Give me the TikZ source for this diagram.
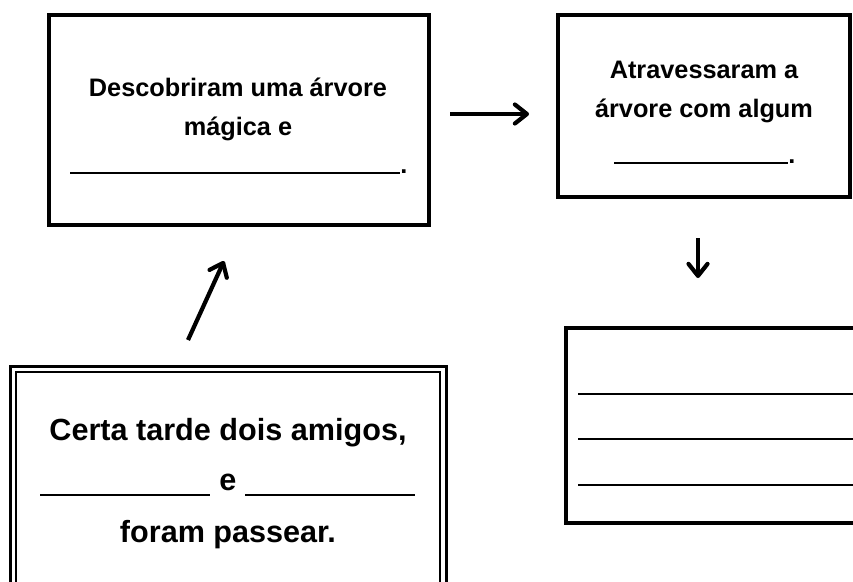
\documentclass[tikz,border=0pt]{standalone}
\usepackage{fontspec}
\setmainfont{Liberation Sans}
\usetikzlibrary{arrows.meta}
\begin{document}
\begin{tikzpicture}[x=1pt,y=-1pt,
  box/.style={draw=black,line width=4pt,inner sep=0pt},
  txt/.style={font=\bfseries\fontsize{25.3}{28}\selectfont,inner sep=0pt,anchor=base},
  bigtxt/.style={font=\bfseries\fontsize{30.6}{34}\selectfont,inner sep=0pt,anchor=base},
  blank/.style={line width=1.6pt},
  arr/.style={line width=4.2pt,-{Straight Barb[length=12pt,width=19pt,line width=4.2pt,round]}}]
\clip (0,0) rectangle (853,581);
\fill[white] (0,0) rectangle (853,581);
% box A
\node[box,minimum width=380pt,minimum height=210pt] (A) at (239,120) {};
\node[txt] (a1) at (238,96) {Descobriram uma árvore};
\node[txt] (a2) at (238,135) {mágica e};
\draw[blank] (70,173) -- (400,173);
\node[txt] (a3) at (404,173) {.};
% box B
\node[box,minimum width=292pt,minimum height=182pt] (B) at (704,106) {};
\node[txt] (b1) at (704,78) {Atravessaram a};
\node[txt] (b2) at (704,117) {árvore com algum};
\draw[blank] (614,163) -- (788,163);
\node[txt] (b3) at (792,163) {.};
% box C
\node[box,minimum width=294pt,minimum height=195pt] (C) at (713,425.5) {};
\draw[blank] (578,394) -- (853,394);
\draw[blank] (578,439) -- (853,439);
\draw[blank] (578,485) -- (853,485);
% box D (double)
\node[draw=black,line width=3pt,minimum width=436pt,minimum height=240pt,inner sep=0pt] (D) at (228,486) {};
\node[draw=black,line width=2pt,minimum width=424pt,minimum height=228pt,inner sep=0pt] (Di) at (228,486) {};
\node[bigtxt] (d1) at (228,440) {Certa tarde dois amigos,};
\draw[blank] (40,495) -- (210,495);
\node[bigtxt] (d2) at (228,490) {e};
\draw[blank] (245,495) -- (415,495);
\node[bigtxt] (d3) at (228,542) {foram passear.};
% arrows
\coordinate (r1) at (450,114);
\coordinate (r2) at (529,114);
\draw[arr] (r1) -- (r2);
\coordinate (v1) at (698,238);
\coordinate (v2) at (698,278);
\draw[arr] (v1) -- (v2);
\coordinate (u1) at (188,340);
\coordinate (u2) at (224,261);
\draw[arr] (u1) -- (u2);
\end{tikzpicture}
\end{document}
